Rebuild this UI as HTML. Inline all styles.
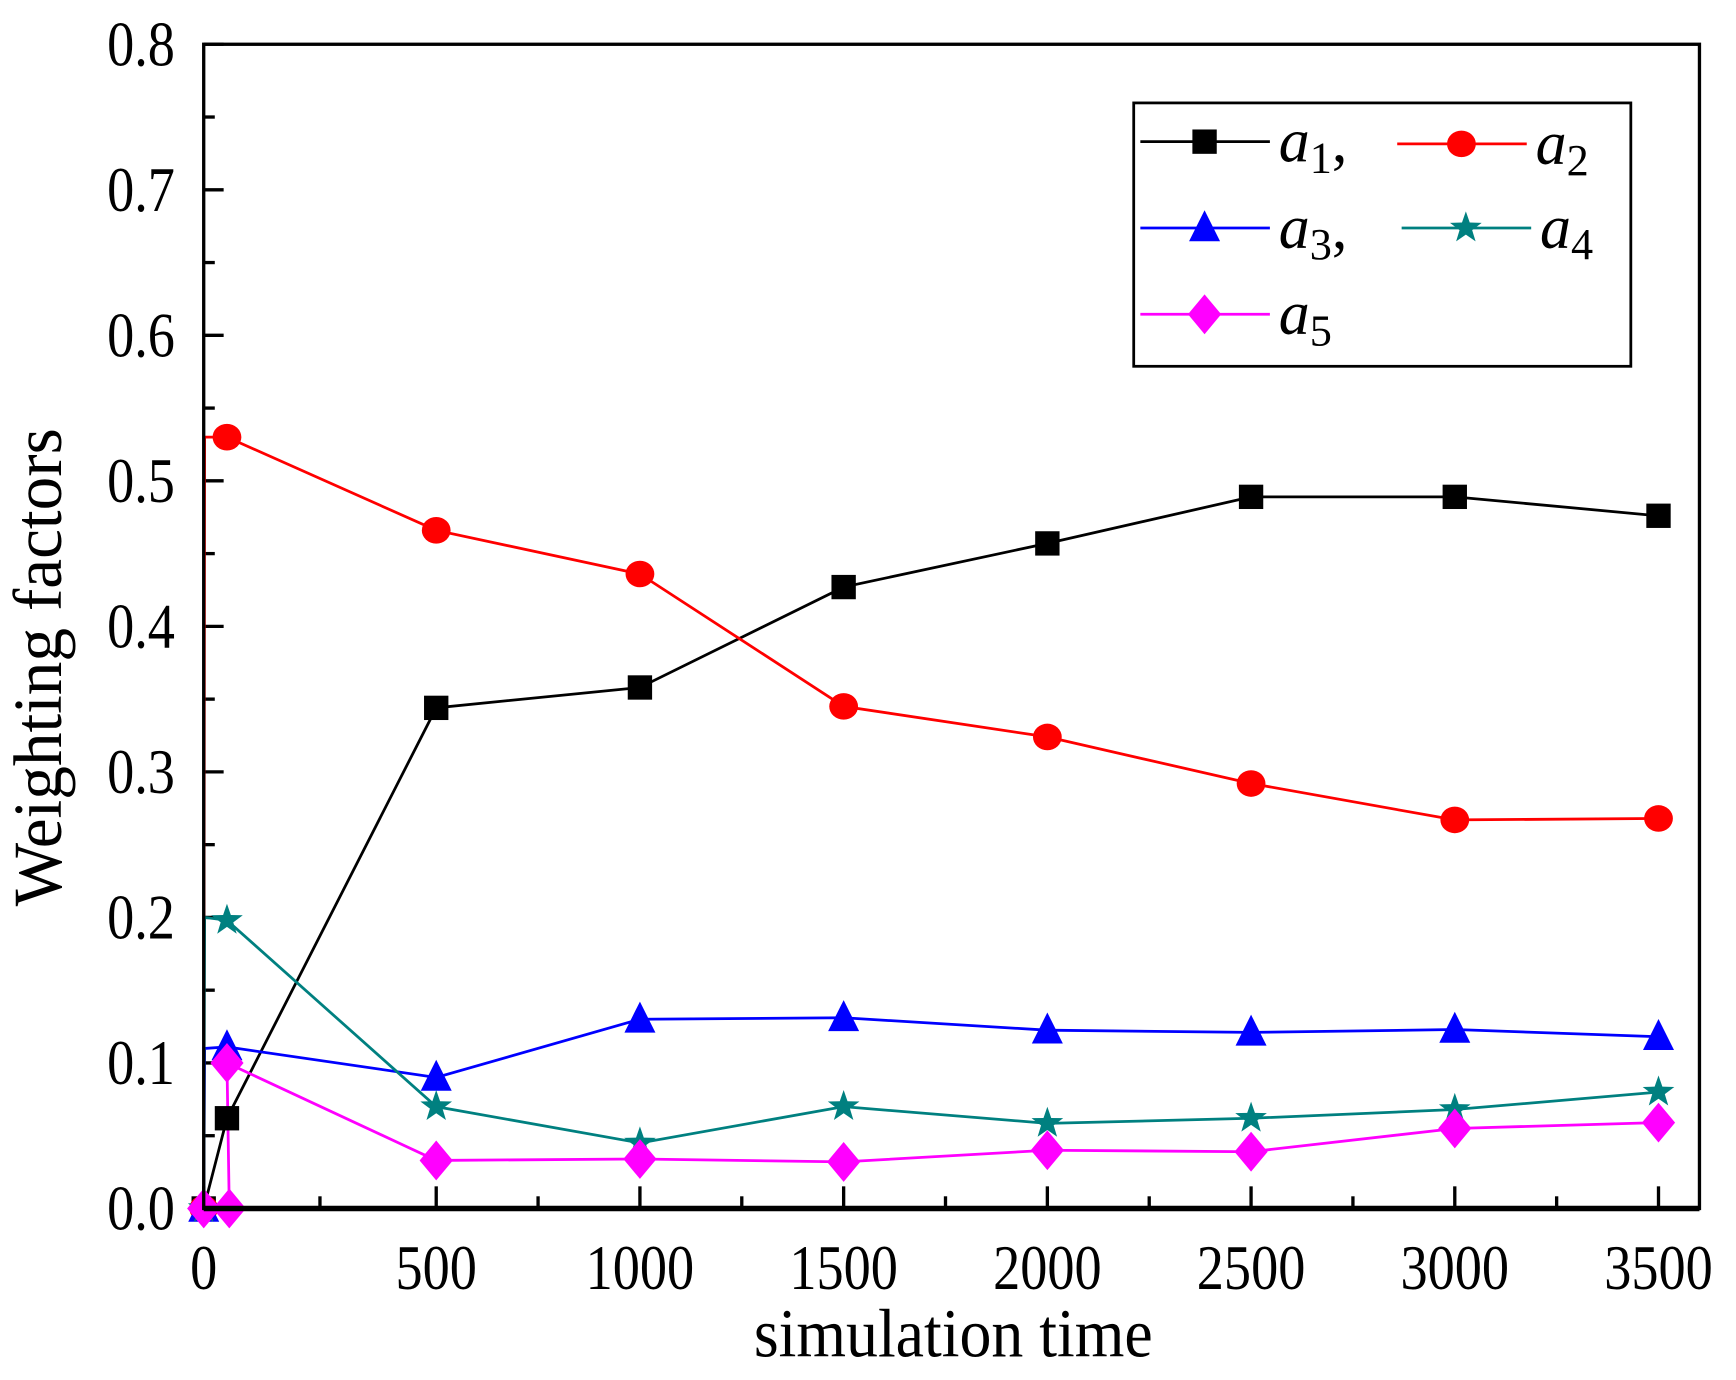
<!DOCTYPE html>
<html><head><meta charset="utf-8"><style>
html,body{margin:0;padding:0;background:#fff}
svg{display:block}
text{font-family:"Liberation Serif",serif;fill:#000}
</style></head><body>
<svg id="chart" width="1736" height="1380" viewBox="0 0 1568 1247" preserveAspectRatio="none" xmlns="http://www.w3.org/2000/svg">
<rect x="0" y="0" width="1568" height="1247" fill="#fff"/>
<g id="plot"></g>
</svg>
<script>
const xTicks = [0, 500, 1000, 1500, 2000, 2500, 3000, 3500];
const yTicks = [0.0, 0.1, 0.2, 0.3, 0.4, 0.5, 0.6, 0.7, 0.8];
const a1T = [0, 50, 500, 1000, 1500, 2000, 2500, 3000, 3500];
const a1V = [0, 0.062, 0.344, 0.358, 0.427, 0.457, 0.489, 0.489, 0.476];
const a2T = [0, 2, 50, 500, 1000, 1500, 2000, 2500, 3000, 3500];
const a2V = [0, 0.53, 0.53, 0.466, 0.436, 0.345, 0.324, 0.292, 0.267, 0.268];
const a3T = [0, 2, 50, 500, 1000, 1500, 2000, 2500, 3000, 3500];
const a3V = [0, 0.11, 0.111, 0.09, 0.13, 0.131, 0.1225, 0.121, 0.123, 0.118];
const a4T = [0, 2, 50, 500, 1000, 1500, 2000, 2500, 3000, 3500];
const a4V = [0, 0.2, 0.198, 0.07, 0.045, 0.07, 0.0585, 0.062, 0.068, 0.08];
const a5T = [0, 55, 50, 500, 1000, 1500, 2000, 2500, 3000, 3500];
const a5V = [0, 0, 0.1, 0.033, 0.034, 0.032, 0.040, 0.039, 0.055, 0.059];

const NS = "http://www.w3.org/2000/svg";
const g = document.getElementById('plot');
const L = 184, R = 1535, T = 40, B = 1092;
function xs(t){ return t <= 500 ? 184 + t * 210 / 500 : 394 + (t - 500) * 0.368; }
function ys(v){ return B - v * (B - T) / 0.8; }
function mk(tag, attrs){ const e = document.createElementNS(NS, tag); for (const k in attrs) e.setAttribute(k, attrs[k]); g.appendChild(e); return e; }

yTicks.forEach((v, i) => {
  const y = ys(v);
  const t = mk('line', {x1: L, x2: L + 18, y1: y, y2: y, stroke: '#000', 'stroke-width': 3});
  
  
  if (i < yTicks.length - 1) {
    const m = mk('line', {x1: L, x2: L + 10, y1: ys(v + 0.05), y2: ys(v + 0.05), stroke: '#000', 'stroke-width': 3});
    
    
  }
  const lb = mk('text', {x: 158, y: y + 19, 'text-anchor': 'end', 'font-size': 57, transform: `translate(158,0) scale(0.86,1) translate(-158,0)`});
  lb.textContent = v.toFixed(1);
  
  
});
xTicks.forEach((t, i) => {
  const x = xs(t);
  const tk = mk('line', {x1: x, x2: x, y1: B, y2: B - 20, stroke: '#000', 'stroke-width': 3});
  
  
  if (i > 0) {
    const mx = xs(t - 250);
    const m = mk('line', {x1: mx, x2: mx, y1: B, y2: B - 11, stroke: '#000', 'stroke-width': 3});
    
    
  }
  const lb = mk('text', {x: x, y: 1165, 'text-anchor': 'middle', 'font-size': 57, transform: `translate(${x},0) scale(0.86,1) translate(${-x},0)`});
  lb.textContent = String(t);
  
  
});

function marker(type, x, y, color){
  let e;
  if (type === 'square') e = mk('rect', {x: x - 11, y: y - 11, width: 22, height: 22, fill: color});
  else if (type === 'circle') e = mk('ellipse', {cx: x, cy: y, rx: 13, ry: 12, fill: color});
  else if (type === 'triangle') e = mk('polygon', {points: `${x},${y-16} ${x-14},${y+12} ${x+14},${y+12}`, fill: color});
  else if (type === 'diamond') e = mk('polygon', {points: `${x},${y-18} ${x+15},${y} ${x},${y+18} ${x-15},${y}`, fill: color});
  else {
    const pts = [];
    for (let k = 0; k < 10; k++) {
      const r = k % 2 ? 6 : 15, a = -Math.PI / 2 + k * Math.PI / 5;
      pts.push((x + r * Math.cos(a)).toFixed(1) + ',' + (y + r * Math.sin(a)).toFixed(1));
    }
    e = mk('polygon', {points: pts.join(' '), fill: color});
  }
  return e;
}
const series = [
  {name: 'a1', T: a1T, V: a1V, color: '#000000', m: 'square'},
  {name: 'a2', T: a2T, V: a2V, color: '#ff0000', m: 'circle'},
  {name: 'a3', T: a3T, V: a3V, color: '#0000ff', m: 'triangle'},
  {name: 'a4', T: a4T, V: a4V, color: '#008080', m: 'star'},
  {name: 'a5', T: a5T, V: a5V, color: '#ff00ff', m: 'diamond'}
];
series.forEach(s => {
  const d = s.T.map((t, i) => (i ? 'L' : 'M') + xs(t).toFixed(1) + ',' + ys(s.V[i]).toFixed(1)).join(' ');
  const p = mk('path', {d: d, fill: 'none', stroke: s.color, 'stroke-width': 2.5});
  
  
});
series.forEach(s => {
  s.T.forEach((t, i) => {
    if (t === 2) return;
    const e = marker(s.m, xs(t), ys(s.V[i]), s.color);
    
    
  });
});

const fr = mk('rect', {x: L, y: T, width: R - L, height: B - T, fill: 'none', stroke: '#000', 'stroke-width': 3});


const bax = mk('line', {x1: L, x2: R, y1: B, y2: B, stroke: '#000', 'stroke-width': 5});



const xt = mk('text', {x: 861, y: 1226, 'text-anchor': 'middle', 'font-size': 62, transform: 'translate(861,0) scale(0.93,1) translate(-861,0)'});
xt.textContent = 'simulation time';


const yt = mk('text', {x: 0, y: 0, 'text-anchor': 'middle', 'font-size': 62, transform: 'translate(55,603) rotate(-90) scale(0.98,1)'});
yt.textContent = 'Weighting factors';



const lg = mk('rect', {x: 1024, y: 93, width: 449, height: 238, fill: '#fff', stroke: '#000', 'stroke-width': 2.5});


const legendItems = [
  {s: 0, x: 1030, y: 128, label: '1', comma: true},
  {s: 1, x: 1262, y: 130, label: '2', comma: false},
  {s: 2, x: 1030, y: 206, label: '3', comma: true},
  {s: 3, x: 1266, y: 206, label: '4', comma: false},
  {s: 4, x: 1030, y: 284, label: '5', comma: false}
];
legendItems.forEach(it => {
  const s = series[it.s];
  const ln = mk('line', {x1: it.x, x2: it.x + 117, y1: it.y, y2: it.y, stroke: s.color, 'stroke-width': 2.5});
  
  
  const m = marker(s.m, it.x + 58, it.y, s.color);
  
  
  const tx = mk('text', {x: it.x + 125, y: it.y + 18, 'font-size': 56});
  
  
  const a = document.createElementNS(NS, 'tspan'); a.setAttribute('font-style', 'italic'); a.textContent = 'a'; tx.appendChild(a);
  const sub = document.createElementNS(NS, 'tspan'); sub.setAttribute('font-size', 40); sub.setAttribute('dy', 10); sub.textContent = it.label; tx.appendChild(sub);
  if (it.comma) { const c = document.createElementNS(NS, 'tspan'); c.setAttribute('dy', -10); c.textContent = ','; tx.appendChild(c); }
});
</script>
</body></html>
